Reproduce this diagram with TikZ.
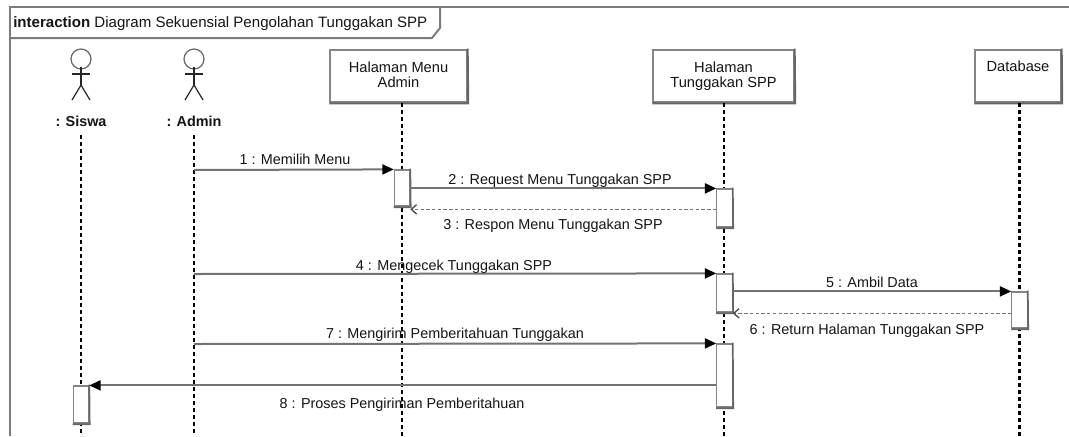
\documentclass[tikz,border=0pt]{standalone}
\usepackage{fontspec}
\setmainfont{Liberation Sans}
\usetikzlibrary{arrows.meta}
\definecolor{framegray}{HTML}{7C7C7C}
\definecolor{linegray}{HTML}{737373}
\definecolor{boxgray}{HTML}{858585}
\definecolor{shadowgray}{HTML}{666666}
\definecolor{txt}{HTML}{151515}
\begin{document}
\begin{tikzpicture}[x=0.75pt,y=-0.75pt,
  framel/.style={draw=framegray,line width=1.5pt},
  lifeline/.style={draw=black,line width=1.6pt,dash pattern=on 3pt off 2.25pt},
  objbox/.style={draw=boxgray,fill=white,line width=0.9pt,minimum height=39pt,inner sep=0pt},
  objtext/.style={font=\fontsize{11}{11.2}\selectfont,text=txt,align=center,inner sep=0pt,anchor=north},
  actbox/.style={draw=boxgray,fill=white,line width=0.9pt,minimum width=11.5pt,inner sep=0pt},
  msg/.style={draw=linegray,line width=1.5pt,-{Triangle[length=8.5pt,width=7.5pt,color=black]}},
  ret/.style={draw=linegray,line width=0.9pt,dash pattern=on 2.5pt off 1.8pt,-{Straight Barb[length=4pt,width=7pt,color=black!70,line width=1pt]}},
  mlabel/.style={font=\fontsize{10.8}{12}\selectfont,text=txt,inner sep=0pt,anchor=base},
  actorlabel/.style={font=\bfseries\fontsize{10.8}{12}\selectfont,text=txt,inner sep=0pt,anchor=base},
  stick/.style={draw=black!85,line width=0.9pt}
]
\useasboundingbox (0,0) rectangle (1069,436);
\fill[white] (0,0) rectangle (1069,436);

% frame
\draw[framel] (10,436) -- (10,7) -- (1069,7);
\draw[framel] (10,38) -- (432,38) -- (440,28) -- (440,7);
\node[font=\fontsize{11.3}{12}\selectfont,text=txt,anchor=base west,inner sep=0pt] (title) at (13,27) {\textbf{interaction} Diagram Sekuensial Pengolahan Tunggakan SPP};

% actors
\foreach \n/\x in {siswa/81,admin/194}{
  \draw[stick,draw=black!60] (\x,59) circle[radius=7.5pt];
  \draw[stick] (\x,66.5) -- (\x,85);
  \draw[stick] (\x-9,74) -- (\x+9,74);
  \draw[stick] (\x-9,100) -- (\x,85) -- (\x+9,100);
}
\node[actorlabel] (siswaL) at (81,126) {: Siswa};
\node[actorlabel] (adminL) at (194,126) {: Admin};

% object boxes
\node[objbox,minimum width=102.75pt] (menu) at (398.5,76) {};
\node[objbox,minimum width=105.75pt] (tung) at (723.5,76) {};
\node[objbox,minimum width=64.5pt] (db) at (1018,76) {};
\foreach \b in {menu,tung,db}{
  \draw[shadowgray,line width=1.6pt] ([yshift=0.6pt]\b.north east) -- ([xshift=0.4pt,yshift=-0.6pt]\b.south east) -- ([yshift=-0.6pt]\b.south west);
}
\node[objtext] (menuT) at (398.5,61.5) {Halaman Menu\\Admin};
\node[objtext] (tungT) at (723.5,62) {Halaman\\Tunggakan SPP};
\node[objtext] (dbT) at (1018,60.5) {Database};

% lifeline ends
\coordinate (siswaTop) at (81,135);
\coordinate (siswaEnd) at (81,436);
\coordinate (adminTop) at (194,135);
\coordinate (adminEnd) at (194,436);
\coordinate (menuTop) at (402,103);
\coordinate (menuEnd) at (402,436);
\coordinate (tungTop) at (724,103);
\coordinate (tungEnd) at (724,436);
\coordinate (dbTop) at (1019.5,103);
\coordinate (dbEnd) at (1019.5,436);
\foreach \l in {siswa,admin,menu,tung,db}{
  \draw[lifeline] (\l Top) -- (\l End);
}

% activation boxes
\node[actbox,minimum height=27pt] (actM) at (402,188) {};
\node[actbox,minimum height=28.5pt] (actT1) at (724.5,208) {};
\node[actbox,minimum height=28.5pt] (actT2) at (724.5,293) {};
\node[actbox,minimum height=47.25pt] (actT3) at (724.5,375.5) {};
\node[actbox,minimum height=27pt] (actD) at (1019.5,310) {};
\node[actbox,minimum height=27.75pt] (actS) at (81,404.5) {};
\foreach \b in {actM,actT1,actT2,actT3,actD,actS}{
  \draw[shadowgray,line width=1.3pt] ([yshift=0.5pt]\b.north east) -- ([xshift=0.3pt,yshift=-0.5pt]\b.south east) -- ([yshift=-0.5pt]\b.south west);
}

% message anchors on the Admin lifeline
\coordinate (m1s) at (194,170);
\coordinate (m4s) at (194,274);
\coordinate (m7s) at (194,344);

% messages
\draw[msg] (m1s) -- (actM.north west);
\draw[msg] (actM.east |- actT1.north west) -- (actT1.north west);
\draw[ret] ([yshift=-1pt]actT1.west) -- ([yshift=-1pt]actM.east |- actT1.west);
\draw[msg] (m4s) -- (actT2.north west);
\draw[msg] (actT2.east |- actD.north west) -- (actD.north west);
\draw[ret] ([yshift=-2.5pt]actD.west) -- ([yshift=-2.5pt]actT2.east |- actD.west);
\draw[msg] (m7s) -- (actT3.north west);
\draw[msg] (actT3.west |- actS.north east) -- (actS.north east);

% message labels
\node[mlabel] (l1) at (295,164) {1 : Memilih Menu};
\node[mlabel] (l2) at (560,184) {2 : Request Menu Tunggakan SPP};
\node[mlabel] (l3) at (553,229) {3 : Respon Menu Tunggakan SPP};
\node[mlabel] (l4) at (454,270) {4 : Mengecek Tunggakan SPP};
\node[mlabel] (l5) at (872,287) {5 : Ambil Data};
\node[mlabel] (l6) at (867,334) {6 : Return Halaman Tunggakan SPP};
\node[mlabel] (l7) at (455,338) {7 : Mengirim Pemberitahuan Tunggakan};
\node[mlabel] (l8) at (402,408) {8 : Proses Pengiriman Pemberitahuan};
\end{tikzpicture}
\end{document}
